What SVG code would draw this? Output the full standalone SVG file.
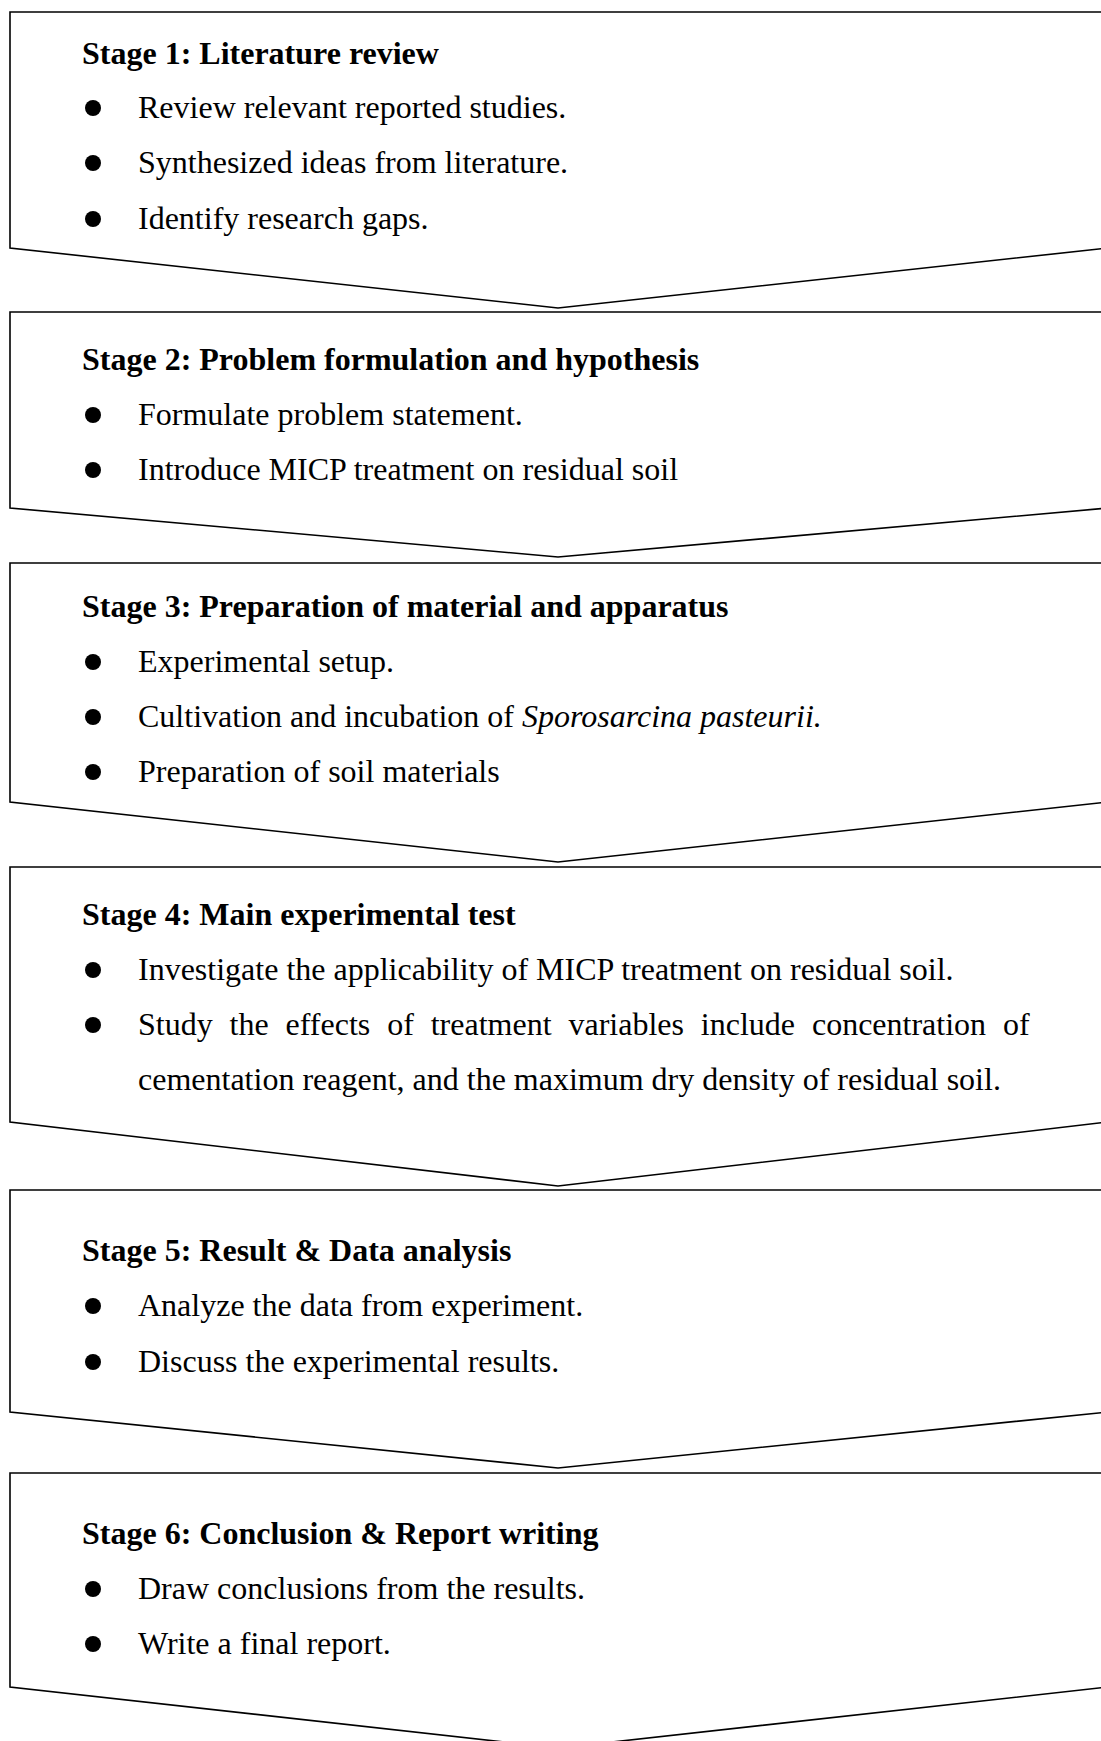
<svg xmlns="http://www.w3.org/2000/svg" width="1101" height="1741" viewBox="0 0 1101 1741">
<style>
.box{fill:#fff;stroke:#000;stroke-width:1.6;stroke-linejoin:miter}
.t{font-family:"Liberation Serif","Times New Roman",serif;font-size:32px;fill:#000}
.b{font-weight:bold}
.dot{fill:#000}
</style>
<rect x="0" y="0" width="1101" height="1741" fill="#fff"/>
<g id="stage1">
<polygon class="box" points="10,12 1108,12 1108,248 558,308 10,248"/>
<text class="t b" x="82" y="64">Stage 1: Literature review</text>
<circle class="dot" cx="93" cy="108" r="8"/>
<text class="t" x="138" y="118">Review relevant reported studies.</text>
<circle class="dot" cx="93" cy="163" r="8"/>
<text class="t" x="138" y="173">Synthesized ideas from literature.</text>
<circle class="dot" cx="93" cy="219" r="8"/>
<text class="t" x="138" y="229">Identify research gaps.</text>
</g>
<g id="stage2">
<polygon class="box" points="10,312 1108,312 1108,508 558,557 10,508"/>
<text class="t b" x="82" y="370">Stage 2: Problem formulation and hypothesis</text>
<circle class="dot" cx="93" cy="415" r="8"/>
<text class="t" x="138" y="425">Formulate problem statement.</text>
<circle class="dot" cx="93" cy="470" r="8"/>
<text class="t" x="138" y="480">Introduce MICP treatment on residual soil</text>
</g>
<g id="stage3">
<polygon class="box" points="10,563 1108,563 1108,802 558,862 10,802"/>
<text class="t b" x="82" y="617">Stage 3: Preparation of material and apparatus</text>
<circle class="dot" cx="93" cy="662" r="8"/>
<text class="t" x="138" y="672">Experimental setup.</text>
<circle class="dot" cx="93" cy="717" r="8"/>
<text class="t" x="138" y="727">Cultivation and incubation of <tspan font-style="italic">Sporosarcina pasteurii.</tspan></text>
<circle class="dot" cx="93" cy="772" r="8"/>
<text class="t" x="138" y="782">Preparation of soil materials</text>
</g>
<g id="stage4">
<polygon class="box" points="10,867 1108,867 1108,1122 558,1186 10,1122"/>
<text class="t b" x="82" y="925">Stage 4: Main experimental test</text>
<circle class="dot" cx="93" cy="970" r="8"/>
<text class="t" x="138" y="980">Investigate the applicability of MICP treatment on residual soil.</text>
<circle class="dot" cx="93" cy="1025" r="8"/>
<text class="t" x="138" y="1035" word-spacing="8.9">Study the effects of treatment variables include concentration of</text>
<text class="t" x="138" y="1090">cementation reagent, and the maximum dry density of residual soil.</text>
</g>
<g id="stage5">
<polygon class="box" points="10,1190 1108,1190 1108,1412 558,1468 10,1412"/>
<text class="t b" x="82" y="1261">Stage 5: Result &amp; Data analysis</text>
<circle class="dot" cx="93" cy="1306" r="8"/>
<text class="t" x="138" y="1316">Analyze the data from experiment.</text>
<circle class="dot" cx="93" cy="1362" r="8"/>
<text class="t" x="138" y="1372">Discuss the experimental results.</text>
</g>
<g id="stage6">
<polygon class="box" points="10,1473 1108,1473 1108,1687 558,1748 10,1687"/>
<text class="t b" x="82" y="1544">Stage 6: Conclusion &amp; Report writing</text>
<circle class="dot" cx="93" cy="1589" r="8"/>
<text class="t" x="138" y="1599">Draw conclusions from the results.</text>
<circle class="dot" cx="93" cy="1644" r="8"/>
<text class="t" x="138" y="1654">Write a final report.</text>
</g>
<g id="connectors"></g>
</svg>
